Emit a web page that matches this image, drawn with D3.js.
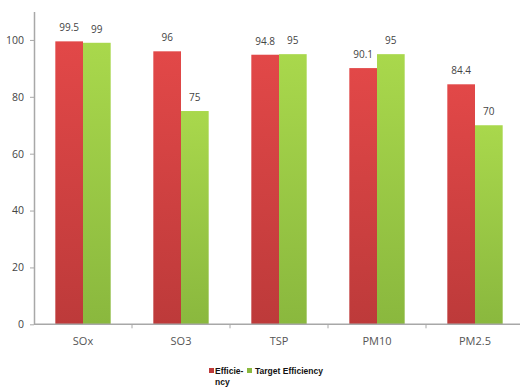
<!DOCTYPE html>
<html>
<head>
<meta charset="utf-8">
<script src="https://cdn.jsdelivr.net/npm/d3@7"></script>
<style>
  html, body { margin: 0; padding: 0; background: #fff; }
  svg { display: block; }
</style>
</head>
<body>
<svg id="chart" width="520" height="387"></svg>
<script>
// Removal efficiency per pollutant, achieved vs. target (%)
const categories = ["SOx", "SO3", "TSP", "PM10", "PM2.5"];
const seriesNames = ["Efficiency", "Target Efficiency"];
const efficiency = [99.5, 96, 94.8, 90.1, 84.4];
const targetEfficiency = [99, 75, 95, 95, 70];
const yTicks = [0, 20, 40, 60, 80, 100];

const seriesValues = [efficiency, targetEfficiency];
const colors = [
  { top: "#e24848", bottom: "#bd3a3a" },
  { top: "#a9d84c", bottom: "#8ab83e" }
];

const svg = d3.select("#chart");
const plotLeft = 34, plotRight = 524, plotTop = 11.5, plotBottom = 324.3;

const x = d3.scaleBand().domain(categories).range([plotLeft, plotRight])
  .paddingInner(0.435).paddingOuter(0.2175);
const xs = d3.scaleBand().domain(d3.range(seriesNames.length)).range([0, x.bandwidth()]);
const y = d3.scaleLinear().domain([0, 110]).range([plotBottom, plotTop]);

// vertical gradients for the bars
const defs = svg.append("defs");
colors.forEach((c, i) => {
  const g = defs.append("linearGradient").attr("id", "grad" + i)
    .attr("x1", 0).attr("y1", 0).attr("x2", 0).attr("y2", 1);
  g.append("stop").attr("offset", "0%").attr("stop-color", c.top);
  g.append("stop").attr("offset", "100%").attr("stop-color", c.bottom);
});

// bars
const groups = svg.append("g").selectAll("g")
  .data(categories).join("g")
  .attr("transform", d => `translate(${x(d)},0)`);

groups.selectAll("rect")
  .data((d, ci) => seriesValues.map((vals, si) => ({ si, v: vals[ci] })))
  .join("rect")
  .attr("x", d => xs(d.si))
  .attr("width", xs.bandwidth())
  .attr("y", d => y(d.v))
  .attr("height", d => y(0) - y(d.v))
  .attr("fill", d => `url(#grad${d.si})`);

groups.selectAll("text")
  .data((d, ci) => seriesValues.map((vals, si) => ({ si, v: vals[ci] })))
  .join("text")
  .attr("x", d => xs(d.si) + xs.bandwidth() / 2)
  .attr("y", d => y(d.v) - 10)
  .attr("text-anchor", "middle")
  .attr("font-family", "Open Sans, sans-serif")
  .attr("font-size", "10px")
  .attr("fill", "#444")
  .text(d => String(d.v));

// y axis
const yAxis = svg.append("g")
  .attr("transform", `translate(${plotLeft},0)`)
  .call(d3.axisLeft(y).tickValues(yTicks).tickSize(4).tickSizeOuter(0).tickPadding(6));
yAxis.select(".domain").attr("stroke", "#a8a8a8").attr("stroke-width", 1.5);
yAxis.selectAll(".tick line").attr("stroke", "#a8a8a8");
yAxis.selectAll(".tick text")
  .attr("font-family", "Open Sans, sans-serif")
  .attr("font-size", "10.5px")
  .attr("fill", "#444");

// x axis: ticks on category boundaries
const xAxisG = svg.append("g").attr("transform", `translate(0,${plotBottom})`);
xAxisG.append("line")
  .attr("x1", plotLeft).attr("x2", plotRight)
  .attr("stroke", "#a8a8a8").attr("stroke-width", 1.5);
xAxisG.selectAll("line.tk")
  .data(categories.slice(1))
  .join("line").attr("class", "tk")
  .attr("x1", d => x(d) - x.step() * x.paddingInner() / 2)
  .attr("x2", d => x(d) - x.step() * x.paddingInner() / 2)
  .attr("y1", 0).attr("y2", 4)
  .attr("stroke", "#a8a8a8");
xAxisG.selectAll("text")
  .data(categories)
  .join("text")
  .attr("x", d => x(d) + x.bandwidth() / 2)
  .attr("y", 21)
  .attr("text-anchor", "middle")
  .attr("font-family", "Open Sans, sans-serif")
  .attr("font-size", "11px")
  .attr("fill", "#555")
  .text(d => d);

// legend
const legend = svg.append("g").attr("transform", "translate(209,368)");
legend.append("rect").attr("x", 0).attr("y", 0).attr("width", 5).attr("height", 5)
  .attr("fill", colors[0].bottom);
const lt = legend.append("text")
  .attr("font-family", "Liberation Sans, Arial, sans-serif")
  .attr("font-weight", "bold").attr("font-size", "8.5px").attr("fill", "#111");
lt.append("tspan").attr("x", 6).attr("y", 6).text(seriesNames[0].slice(0, 7) + "-");
lt.append("tspan").attr("x", 6).attr("y", 17).text(seriesNames[0].slice(7));
legend.append("rect").attr("x", 38).attr("y", 0).attr("width", 5).attr("height", 5)
  .attr("fill", colors[1].bottom);
legend.append("text").attr("x", 46).attr("y", 6)
  .attr("font-family", "Liberation Sans, Arial, sans-serif")
  .attr("font-weight", "bold").attr("font-size", "8.5px").attr("fill", "#111")
  .text(seriesNames[1]);
</script>
</body>
</html>
